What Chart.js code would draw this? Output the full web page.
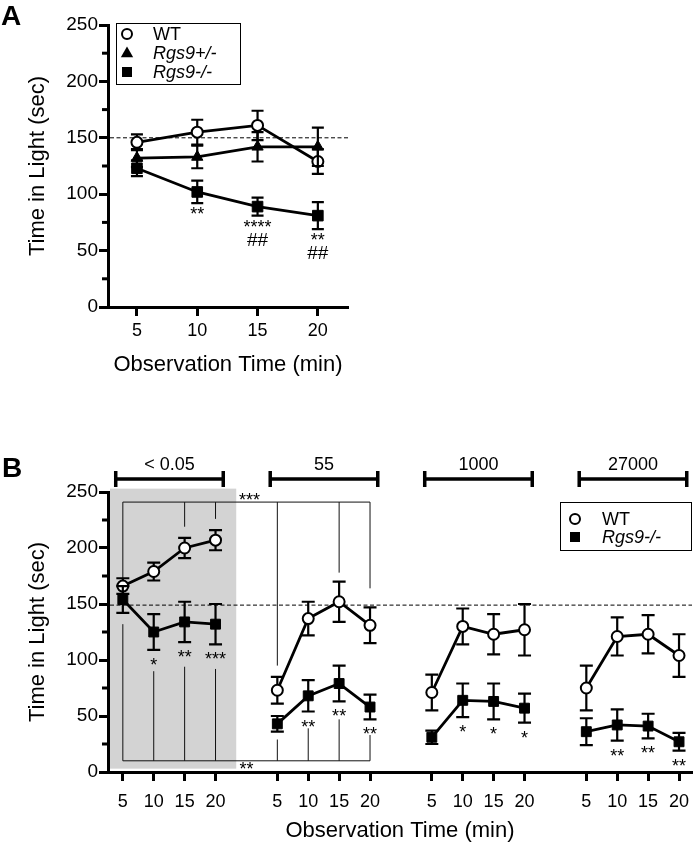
<!DOCTYPE html>
<html>
<head>
<meta charset="utf-8">
<script src="https://cdn.jsdelivr.net/npm/chart.js@4.4.1/dist/chart.umd.min.js"></script>
<style>
  html, body { margin: 0; padding: 0; background: #fff; }
  #wrap { position: relative; width: 700px; height: 844px; overflow: hidden; }
  canvas { position: absolute; left: 0; }
  #chartA { top: 0; }
  #chartB { top: 440px; }
</style>
</head>
<body>
<div id="wrap">
  <canvas id="chartA" width="360" height="395"></canvas>
  <canvas id="chartB" width="700" height="404"></canvas>
</div>
<script>
// ---- shared ----
const TIME_LABELS = ['5', '10', '15', '20'];
const Y_TICKS = [0, 50, 100, 150, 200, 250];
const Y_MINOR = [25, 75, 125, 175, 225];

// ---- panel A ----
const A_TIMES = [5, 10, 15, 20];
const A_WT = [146, 155, 161, 129];
const A_WT_SEM = [7, 11, 13, 11];
const A_HET = [132, 133, 142, 142];
const A_HET_SEM = [8, 10, 13, 17];
const A_KO = [123, 102, 89, 81];
const A_KO_SEM = [7, 10, 8, 12];
const A_KO_STARS = ['', '**', '****', '**'];
const A_KO_HASH = ['', '', '##', '##'];
const A_BASELINE = 150;

// ---- panel B ----
const B_GROUPS = ['< 0.05', '55', '1000', '27000'];
const B_WT = [[166, 179, 200, 207], [73, 137, 152, 131], [71, 130, 123, 127], [75, 121, 123, 104]];
const B_WT_SEM = [[7, 8, 9, 9], [12, 15, 18, 16], [16, 16, 18, 23], [20, 17, 17, 19]];
const B_KO = [[154, 125, 134, 132], [43, 68, 79, 58], [31, 64, 63, 57], [36, 42, 41, 27]];
const B_KO_SEM = [[12, 16, 18, 18], [7, 14, 16, 11], [6, 15, 16, 13], [12, 14, 11, 8]];
const B_KO_STARS = [['', '*', '**', '***'], ['', '**', '**', '**'], ['', '*', '*', '*'], ['', '**', '**', '**']];
const B_BASELINE = 149;
// comparison brackets (x = point index across panel, values in sec)
const SIG_TOP_LEVEL = 241;
const SIG_TOP_X = [0, 2, 3, 5, 7, 8];
const SIG_TOP_END = [173, 219, 226, 95, 178, 164];
const SIG_BOT_LEVEL = 10;
const SIG_BOT_X = [0, 1, 2, 3, 5, 6, 7, 8];
const SIG_BOT_END = [132, 90, 94, 92, 29, 39, 47, 33];

const GROUP_STEP = 5;
const B_POS = B_GROUPS.map((_, g) => TIME_LABELS.map((_, i) => g * GROUP_STEP + i));

const FONT = "'Liberation Sans', Arial, Helvetica, sans-serif";
Chart.defaults.font.family = FONT;
Chart.defaults.color = '#000';
Chart.defaults.animation = false;

function toPoints(xs, ys) {
  return ys.map((v, i) => ({ x: xs[i], y: v }));
}

function drawMarker(ctx, style, x, y, r) {
  ctx.save();
  ctx.strokeStyle = '#000';
  ctx.fillStyle = '#000';
  ctx.beginPath();
  if (style === 'circle') {
    ctx.lineWidth = 2;
    ctx.fillStyle = '#fff';
    ctx.arc(x, y, r, 0, Math.PI * 2);
    ctx.fill();
    ctx.stroke();
  } else if (style === 'triangle') {
    ctx.moveTo(x, y - r);
    ctx.lineTo(x + r * 0.95, y + r * 0.65);
    ctx.lineTo(x - r * 0.95, y + r * 0.65);
    ctx.closePath();
    ctx.fill();
  } else {
    ctx.rect(x - r, y - r, r * 2, r * 2);
    ctx.fill();
  }
  ctx.restore();
}

function drawLegend(ctx, box, items) {
  ctx.save();
  ctx.strokeStyle = '#000';
  ctx.lineWidth = 1;
  ctx.strokeRect(box.x + 0.5, box.y + 0.5, box.w, box.h);
  ctx.textBaseline = 'middle';
  ctx.textAlign = 'left';
  items.forEach((it, i) => {
    const cy = box.y + box.rowTop + i * box.rowStep;
    drawMarker(ctx, it.style, box.x + box.markX, cy, it.r);
    ctx.font = (it.italic ? 'italic ' : '') + '18px ' + FONT;
    ctx.fillStyle = '#000';
    ctx.fillText(it.text, box.x + box.textX, cy + 1);
  });
  ctx.restore();
}

function errorBars(width, cap) {
  return {
    id: 'errorBars',
    beforeDatasetDraw(chart, args) {
      const ds = chart.data.datasets[args.index];
      if (!ds.sem) return;
      const { ctx, scales: { x, y } } = chart;
      ctx.save();
      ctx.strokeStyle = '#000';
      ctx.lineWidth = width;
      ds.data.forEach((p, i) => {
        const px = x.getPixelForValue(p.x);
        const hi = y.getPixelForValue(p.y + ds.sem[i]);
        const lo = y.getPixelForValue(p.y - ds.sem[i]);
        ctx.beginPath();
        ctx.moveTo(px, hi); ctx.lineTo(px, lo);
        ctx.moveTo(px - cap, hi); ctx.lineTo(px + cap, hi);
        ctx.moveTo(px - cap, lo); ctx.lineTo(px + cap, lo);
        ctx.stroke();
      });
      ctx.restore();
    }
  };
}

function minorTicks() {
  return {
    id: 'minorTicks',
    afterDraw(chart) {
      const { ctx, scales: { y } } = chart;
      ctx.save();
      ctx.strokeStyle = '#000';
      ctx.lineWidth = 3;
      Y_MINOR.forEach(v => {
        const py = y.getPixelForValue(v);
        ctx.beginPath();
        ctx.moveTo(y.right - 6, py);
        ctx.lineTo(y.right, py);
        ctx.stroke();
      });
      ctx.restore();
    }
  };
}

function dashedLine(value) {
  return {
    id: 'dashedLine',
    beforeDatasetsDraw(chart) {
      const { ctx, chartArea, scales: { y } } = chart;
      const py = y.getPixelForValue(value);
      ctx.save();
      ctx.strokeStyle = '#000';
      ctx.lineWidth = 1;
      ctx.setLineDash([4, 2.5]);
      ctx.beginPath();
      ctx.moveTo(chartArea.left + 2, py);
      ctx.lineTo(chartArea.right, py);
      ctx.stroke();
      ctx.restore();
    }
  };
}

function drawStars(ctx, x, y, ds, texts, offset, size) {
  ctx.save();
  ctx.fillStyle = '#000';
  ctx.textAlign = 'center';
  ctx.textBaseline = 'alphabetic';
  ctx.font = size + 'px ' + FONT;
  ds.data.forEach((p, i) => {
    if (!texts[i]) return;
    const px = x.getPixelForValue(p.x);
    const lo = y.getPixelForValue(p.y - ds.sem[i]);
    ctx.fillText(texts[i], px, lo + offset);
  });
  ctx.restore();
}

function scaleCommon(size) {
  return {
    grid: { drawOnChartArea: false, tickLength: 9, tickWidth: 3, tickColor: '#000' },
    border: { width: 3, color: '#000' }
  };
}

// ================= Panel A =================
const decoA = {
  id: 'decoA',
  afterDatasetsDraw(chart) {
    const { ctx, chartArea, scales: { x, y } } = chart;
    const ko = chart.data.datasets[2];
    drawStars(ctx, x, y, ko, A_KO_STARS, 17, 18);
    drawStars(ctx, x, y, ko, A_KO_HASH, 30, 19);
  },
  afterDraw(chart) {
    const { ctx, chartArea } = chart;
    drawLegend(ctx, { x: chartArea.left + 8, y: chartArea.top - 2, w: 124, h: 61, markX: 11, textX: 37, rowTop: 11, rowStep: 19 }, [
      { style: 'circle', r: 5, text: 'WT', italic: false },
      { style: 'triangle', r: 6.5, text: 'Rgs9+/-', italic: true },
      { style: 'rect', r: 5, text: 'Rgs9-/-', italic: true }
    ]);
    ctx.save();
    ctx.font = 'bold 28px ' + FONT;
    ctx.fillStyle = '#000';
    ctx.textBaseline = 'alphabetic';
    ctx.fillText('A', 1, 25);
    ctx.restore();
  }
};

new Chart(document.getElementById('chartA'), {
  type: 'line',
  data: {
    datasets: [
      { label: 'WT', data: toPoints(A_TIMES, A_WT), sem: A_WT_SEM, order: 3,
        borderColor: '#000', borderWidth: 2.8, pointStyle: 'circle', pointRadius: 5.5,
        pointBackgroundColor: '#fff', pointBorderColor: '#000', pointBorderWidth: 2 },
      { label: 'Rgs9+/-', data: toPoints(A_TIMES, A_HET), sem: A_HET_SEM, order: 2,
        borderColor: '#000', borderWidth: 2.8, pointStyle: 'triangle', pointRadius: 6.5,
        pointBackgroundColor: '#000', pointBorderColor: '#000', pointBorderWidth: 1 },
      { label: 'Rgs9-/-', data: toPoints(A_TIMES, A_KO), sem: A_KO_SEM, order: 1,
        borderColor: '#000', borderWidth: 2.8, pointStyle: 'rect', pointRadius: 7.5,
        pointBackgroundColor: '#000', pointBorderColor: '#000', pointBorderWidth: 1 }
    ]
  },
  options: {
    responsive: false,
    layout: { padding: { left: 0, right: 12, top: 25, bottom: 0 } },
    plugins: { legend: { display: false }, tooltip: { enabled: false } },
    scales: {
      x: {
        type: 'linear', min: 2.6, max: 22.5,
        afterBuildTicks: s => { s.ticks = A_TIMES.map(v => ({ value: v })); },
        afterFit: s => { s.height = 88; },
        ticks: { font: { size: 18 }, padding: 4, maxRotation: 0, autoSkip: false,
          callback: (v, i) => TIME_LABELS[i] },
        title: { display: true, text: 'Observation Time (min)', font: { size: 22 }, padding: { top: 0, bottom: 17 } },
        ...scaleCommon()
      },
      y: {
        min: 0, max: 250,
        afterBuildTicks: s => { s.ticks = Y_TICKS.map(v => ({ value: v })); },
        afterFit: s => { s.width = 108; },
        ticks: { font: { size: 19 }, padding: 1 },
        title: { display: true, text: 'Time in Light (sec)', font: { size: 22 }, padding: { top: 25, bottom: 0 } },
        ...scaleCommon()
      }
    }
  },
  plugins: [dashedLine(A_BASELINE), errorBars(2.2, 6), minorTicks(), decoA]
});

// ================= Panel B =================
const decoB = {
  id: 'decoB',
  beforeDraw(chart) {
    const { ctx, chartArea, scales: { x, y } } = chart;
    ctx.save();
    ctx.fillStyle = '#d3d3d3';
    const left = chartArea.left + 2;
    const right = x.getPixelForValue(3.67);
    const top = y.getPixelForValue(253);
    const bottom = y.getPixelForValue(3);
    ctx.fillRect(left, top, right - left, bottom - top);
    ctx.restore();
  },
  beforeDatasetsDraw(chart) {
    const { ctx, scales: { x, y } } = chart;
    ctx.save();
    ctx.strokeStyle = '#111';
    ctx.lineWidth = 1;
    const topY = y.getPixelForValue(SIG_TOP_LEVEL);
    const botY = y.getPixelForValue(SIG_BOT_LEVEL);
    const x0 = x.getPixelForValue(0), x8 = x.getPixelForValue(8);
    ctx.beginPath();
    ctx.moveTo(x0, topY); ctx.lineTo(x8, topY);
    SIG_TOP_X.forEach((v, i) => {
      const px = x.getPixelForValue(v);
      ctx.moveTo(px, topY); ctx.lineTo(px, y.getPixelForValue(SIG_TOP_END[i]));
    });
    ctx.moveTo(x0, botY); ctx.lineTo(x8, botY);
    SIG_BOT_X.forEach((v, i) => {
      const px = x.getPixelForValue(v);
      ctx.moveTo(px, botY); ctx.lineTo(px, y.getPixelForValue(SIG_BOT_END[i]));
    });
    ctx.stroke();
    ctx.fillStyle = '#000';
    ctx.font = '18px ' + FONT;
    ctx.textAlign = 'center';
    ctx.textBaseline = 'alphabetic';
    ctx.fillText('***', x.getPixelForValue(4.1), topY + 4);
    ctx.fillText('**', x.getPixelForValue(4.0), botY + 14);
    ctx.restore();
  },
  afterDatasetsDraw(chart) {
    const { ctx, scales: { x, y } } = chart;
    chart.data.datasets.forEach(ds => {
      if (ds.stars) drawStars(ctx, x, y, ds, ds.stars, 21, 18);
    });
  },
  afterDraw(chart) {
    const { ctx, chartArea, scales: { x } } = chart;
    // dose brackets above the plot
    ctx.save();
    ctx.strokeStyle = '#000';
    ctx.fillStyle = '#000';
    ctx.lineWidth = 3.5;
    ctx.font = '18px ' + FONT;
    ctx.textAlign = 'center';
    ctx.textBaseline = 'middle';
    const by = chartArea.top - 13;
    B_GROUPS.forEach((name, g) => {
      const l = x.getPixelForValue(g * GROUP_STEP - 0.23);
      const r = x.getPixelForValue(g * GROUP_STEP + 3.25);
      ctx.beginPath();
      ctx.moveTo(l, by); ctx.lineTo(r, by);
      ctx.moveTo(l, by - 8); ctx.lineTo(l, by + 8);
      ctx.moveTo(r, by - 8); ctx.lineTo(r, by + 8);
      ctx.stroke();
      ctx.fillText(name, (l + r) / 2, by - 14);
    });
    ctx.restore();
    drawLegend(ctx, { x: chartArea.right - 132, y: chartArea.top + 10, w: 131, h: 48, markX: 15, textX: 42, rowTop: 17, rowStep: 18 }, [
      { style: 'circle', r: 5, text: 'WT', italic: false },
      { style: 'rect', r: 5, text: 'Rgs9-/-', italic: true }
    ]);
    ctx.save();
    ctx.font = 'bold 28px ' + FONT;
    ctx.fillStyle = '#000';
    ctx.textBaseline = 'alphabetic';
    ctx.fillText('B', 2, 37);
    ctx.restore();
  }
};

const datasetsB = [];
B_GROUPS.forEach((name, g) => {
  datasetsB.push({
    label: 'WT ' + name, data: toPoints(B_POS[g], B_WT[g]), sem: B_WT_SEM[g], order: 2,
    borderColor: '#000', borderWidth: 2.8, pointStyle: 'circle', pointRadius: 5.5,
    pointBackgroundColor: '#fff', pointBorderColor: '#000', pointBorderWidth: 2
  });
  datasetsB.push({
    label: 'Rgs9-/- ' + name, data: toPoints(B_POS[g], B_KO[g]), sem: B_KO_SEM[g], stars: B_KO_STARS[g], order: 1,
    borderColor: '#000', borderWidth: 2.8, pointStyle: 'rect', pointRadius: 7,
    pointBackgroundColor: '#000', pointBorderColor: '#000', pointBorderWidth: 1
  });
});

new Chart(document.getElementById('chartB'), {
  type: 'line',
  data: { datasets: datasetsB },
  options: {
    responsive: false,
    layout: { padding: { left: 0, right: 3, top: 52, bottom: 0 } },
    plugins: { legend: { display: false }, tooltip: { enabled: false } },
    scales: {
      x: {
        type: 'linear', min: -0.48, max: 18.42,
        afterBuildTicks: s => { s.ticks = B_POS.flat().map(v => ({ value: v })); },
        afterFit: s => { s.height = 72; },
        ticks: { font: { size: 18 }, padding: 10, maxRotation: 0, autoSkip: false,
          callback: (v, i) => TIME_LABELS[i % TIME_LABELS.length] },
        title: { display: true, text: 'Observation Time (min)', font: { size: 22 }, padding: { top: 0, bottom: 0 } },
        ...scaleCommon()
      },
      y: {
        min: 0, max: 250,
        afterBuildTicks: s => { s.ticks = Y_TICKS.map(v => ({ value: v })); },
        afterFit: s => { s.width = 108; },
        ticks: { font: { size: 19 }, padding: 1 },
        title: { display: true, text: 'Time in Light (sec)', font: { size: 22 }, padding: { top: 25, bottom: 0 } },
        ...scaleCommon()
      }
    }
  },
  plugins: [dashedLine(B_BASELINE), errorBars(2.2, 6.5), minorTicks(), decoB]
});
</script>
</body>
</html>
